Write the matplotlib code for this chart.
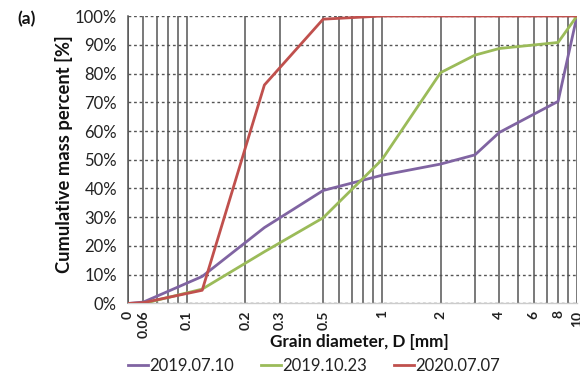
import matplotlib
matplotlib.use("Agg")
import matplotlib.pyplot as plt
from matplotlib.ticker import FixedLocator, FixedFormatter, NullFormatter

plt.rcParams['font.family'] = ['Lato', 'DejaVu Sans']

# Data (grain diameter in mm, cumulative mass percent)
diam = [0.05, 0.06, 0.12, 0.25, 0.5, 1, 2, 3, 4, 8, 10]
s_20190710 = [0, 0.5, 9.4, 26.4, 39.3, 44.6, 48.5, 51.7, 59.5, 70.3, 100]
s_20191023 = [0, 0.0, 5.0, 18.0, 29.8, 50.0, 80.3, 86.4, 88.7, 90.8, 100]
s_20200707 = [0, 0.3, 4.6, 76.0, 98.9, 100, 100, 100, 100, 100, 100]

series_names = ['2019.07.10', '2019.10.23', '2020.07.07']
series_colors = ['#8064A2', '#9BBB59', '#C0504D']

major_ticks = [0.05, 0.06, 0.1, 0.2, 0.3, 0.5, 1, 2, 4, 6, 8, 10]
major_labels = ['0', '0.06', '0.1', '0.2', '0.3', '0.5', '1', '2', '4', '6', '8', '10']
minor_ticks = [0.07, 0.08, 0.09, 0.6, 0.7, 0.8, 0.9, 3, 5, 7, 9]
y_ticks = list(range(0, 101, 10))

fig = plt.figure(figsize=(5.8, 3.75), dpi=100)
ax = fig.add_axes([0.2207, 0.1907, 0.7741, 0.7666])

lines = []
for vals, name, col in zip([s_20190710, s_20191023, s_20200707], series_names, series_colors):
    ln, = ax.plot(diam, vals, color=col, lw=2.0, label=name, zorder=3, solid_joinstyle='round')
    lines.append(ln)

ax.set_xscale('log')
ax.set_xlim(0.05, 10)
ax.set_ylim(0, 100)

ax.xaxis.set_major_locator(FixedLocator(major_ticks))
ax.xaxis.set_major_formatter(FixedFormatter(major_labels))
ax.xaxis.set_minor_locator(FixedLocator(minor_ticks))
ax.xaxis.set_minor_formatter(NullFormatter())
ax.set_yticks(y_ticks)
ax.set_yticklabels([f'{v}%' for v in y_ticks])

ax.tick_params(axis='both', which='both', length=0)
ax.tick_params(axis='y', labelsize=12, pad=8, colors='#222222')
ax.tick_params(axis='x', labelsize=10, pad=5, labelrotation=90, colors='#222222')
for lab in ax.get_xticklabels():
    lab.set_fontweight('bold')

ax.grid(True, axis='x', which='both', color='#555555', lw=1.1, ls='-', zorder=1)
ax.grid(True, axis='y', which='major', color='#555555', lw=1.0, ls=(0, (2, 2)), zorder=1)

for s in ['top', 'right']:
    ax.spines[s].set_visible(False)
ax.spines['left'].set_color('#555555')
ax.spines['left'].set_linewidth(1.1)
ax.spines['bottom'].set_color('#cccccc')
ax.spines['bottom'].set_linewidth(1.0)

fig.text(64 / 580, 1 - 154 / 375, 'Cumulative mass percent [%]', rotation=90,
         ha='center', va='center', fontsize=13.2, fontweight='bold', color='#111111')
fig.text(359 / 580, 1 - 342 / 375, 'Grain diameter, D [mm]', ha='center', va='center',
         fontsize=12.3, fontweight='bold', color='#111111')
fig.text(17 / 580, 1 - 19 / 375, '(a)', ha='left', va='center', fontsize=12.5,
         fontweight='bold', color='#111111')

fig.legend(handles=lines, labels=series_names, loc='center', ncol=3,
           bbox_to_anchor=(314 / 580, 1 - 366 / 375), frameon=False, fontsize=12,
           handlelength=1.2, handletextpad=0.1, columnspacing=1.6, borderaxespad=0,
           labelcolor='#222222')

fig.savefig('out.png', dpi=100)
